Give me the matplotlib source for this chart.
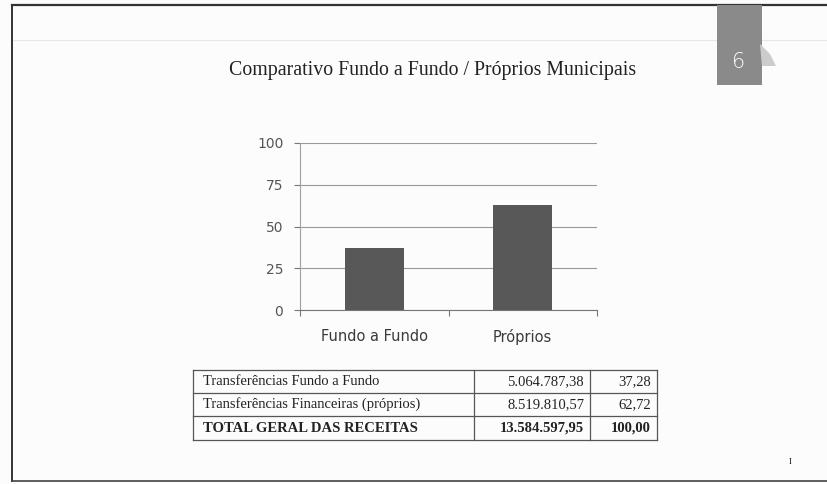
import matplotlib.pyplot as plt
from matplotlib.lines import Line2D
from matplotlib.patches import Rectangle, Polygon

categories = ['Fundo a Fundo', 'Próprios']
percent = [37.28, 62.72]
y_ticks = [0, 25, 50, 75, 100]

row_labels = ['Transferências Fundo a Fundo',
              'Transferências Financeiras (próprios)',
              'TOTAL GERAL DAS RECEITAS']
row_values = ['5.064.787,38', '8.519.810,57', '13.584.597,95']
row_pcts = ['37,28', '62,72', '100,00']

W, H = 827, 484
fig = plt.figure(figsize=(W / 100, H / 100), dpi=100)
fig.patch.set_facecolor('#fcfcfc')


def px(x, y):
    return x / W, 1 - y / H


def line(x0, y0, x1, y1, **kw):
    (a, b), (c, d) = px(x0, y0), px(x1, y1)
    fig.add_artist(Line2D([a, c], [b, d], transform=fig.transFigure, **kw))


# page frame
line(12, 40, 827, 40, color='#e6e6e6', lw=0.8, zorder=1)
line(12, 5, 827, 5, color='#333333', lw=1.6)
line(12, 5, 12, 481, color='#333333', lw=1.4)
line(12, 481, 827, 481, color='#444444', lw=1.2)

# page number tab
fig.add_artist(Rectangle(px(717, 85), 45 / W, 80 / H, transform=fig.transFigure,
                         facecolor='#8a8a8a', edgecolor='none', zorder=3))
fig.text(*px(739, 62), '6', color='white', fontsize=15, ha='center', va='center',
         family='DejaVu Sans', fontweight='light', zorder=4)
fig.add_artist(Polygon([px(760, 44), px(770, 54), px(776, 66), px(762, 66)],
                       closed=True, transform=fig.transFigure,
                       facecolor='#cccccc', edgecolor='none', zorder=3))

fig.text(*px(433, 70), 'Comparativo Fundo a Fundo / Próprios Municipais',
         family='Liberation Serif', fontsize=14.3, ha='center', va='center', color='#222222')

# bar chart
ax = fig.add_axes([300 / W, 1 - 310 / H, 297 / W, 167 / H])
ax.set_facecolor('none')
ax.bar(range(len(categories)), percent, width=0.4, color='#585858', zorder=3)
ax.set_xlim(-0.5, len(categories) - 0.5)
ax.set_ylim(0, 100)
ax.set_yticks(y_ticks)
ax.set_yticklabels([str(t) for t in y_ticks], fontsize=10, color='#555555', family='DejaVu Sans')
ax.set_xticks([-0.5, 0.5, 1.5])
ax.set_xticklabels([])
ax.set_xticks(range(len(categories)), minor=True)
ax.set_xticklabels(categories, minor=True, fontsize=10.5, color='#3a3a3a', family='DejaVu Sans')
ax.tick_params(axis='x', which='minor', length=0, pad=14)
ax.tick_params(axis='x', which='major', length=4, direction='out', color='#777777')
ax.tick_params(axis='y', length=4, color='#777777', pad=8)
ax.grid(axis='y', color='#999999', lw=0.8, zorder=0)
for s in ['top', 'right']:
    ax.spines[s].set_visible(False)
ax.spines['left'].set_color('#a0a0a0')
ax.spines['bottom'].set_color('#777777')

# table
tx0, tx1, cx1, cx2 = 193, 657, 474, 590
ty = [370, 393, 416, 440]
for y in ty:
    line(tx0, y, tx1, y, color='#555555', lw=0.9)
for x in [tx0, cx1, cx2, tx1]:
    line(x, ty[0], x, ty[-1], color='#555555', lw=0.9)
for i in range(len(row_labels)):
    ym = (ty[i] + ty[i + 1]) / 2
    bold = 'bold' if i == len(row_labels) - 1 else 'normal'
    fig.text(*px(203, ym), row_labels[i], family='Liberation Serif', fontsize=10.5,
             va='center', ha='left', fontweight=bold, color='#222222')
    fig.text(*px(584, ym), row_values[i], family='Liberation Serif', fontsize=10.5,
             va='center', ha='right', fontweight=bold, color='#222222')
    fig.text(*px(651, ym), row_pcts[i], family='Liberation Serif', fontsize=10.5,
             va='center', ha='right', fontweight=bold, color='#222222')

fig.text(*px(790, 462), 'I', family='Liberation Serif', fontsize=6, ha='center', va='center')

fig.savefig('out.png', dpi=100, facecolor=fig.get_facecolor())
